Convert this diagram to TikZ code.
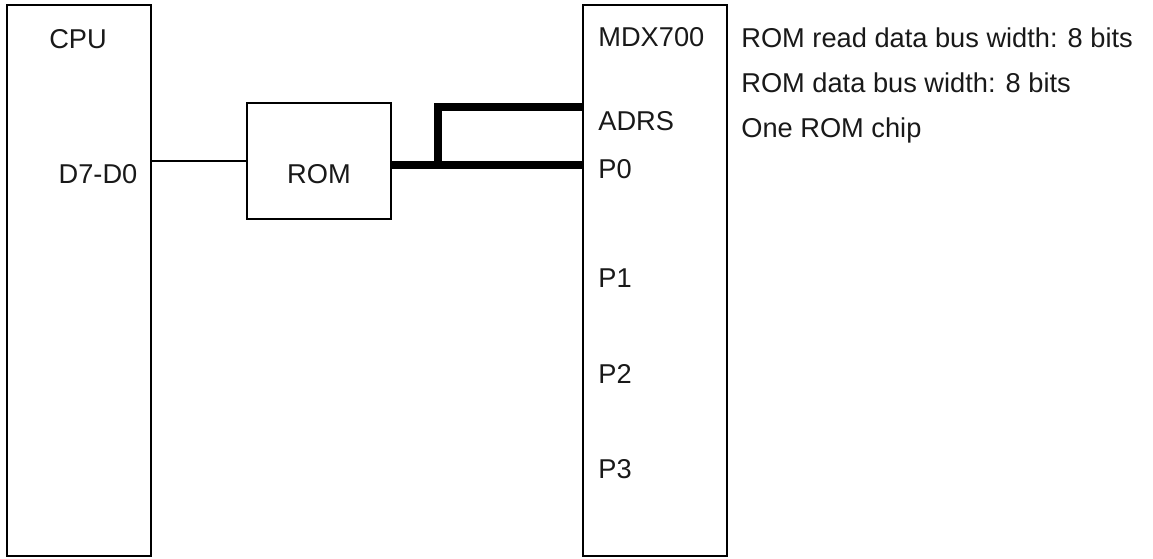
\documentclass[tikz,border=0pt]{standalone}
\usepackage{fontspec}
\setmainfont{Liberation Sans}
\usetikzlibrary{positioning, calc}
\definecolor{inkBlack}{RGB}{0,0,0}
\definecolor{textGray}{RGB}{25,25,25}
\tikzset{
    chipbox/.style={
        rectangle,
        draw=inkBlack,
        line width=1.1pt,
        minimum width=2.88cm,
        inner sep=0pt
    },
    pinlabel/.style={
        anchor=base west,
        inner sep=0pt,
        text=textGray,
        font=\fontsize{15.5}{18}\selectfont
    },
    titlelabel/.style={
        anchor=base,
        inner sep=0pt,
        text=textGray,
        font=\fontsize{15.5}{18}\selectfont
    },
    wire/.style={draw=inkBlack, line width=1.1pt},
    bus/.style={draw=inkBlack, line width=5.1pt, line join=miter}
}
\begin{document}
\begin{tikzpicture}[x=0.02cm,y=-0.02cm]
    \useasboundingbox (0,0) rectangle (1153,558);

    % chips
    \node[chipbox, minimum height=11.02cm] (cpu) at (79,280.5) {};
    \node[chipbox, minimum height=2.32cm] (rom) at (319,161) {};
    \node[chipbox, minimum height=11.02cm] (mdx) at (655,280.5) {};

    \node[titlelabel] (cputitle) at (78,48) {CPU};
    \node[titlelabel] (datapins) at (98,183) {D7-D0};
    \node[titlelabel] (romlabel) at (319,183) {ROM};

    \node[pinlabel] (mdxtitle) at (598,46.5) {MDX700};
    \node[pinlabel] (adrs) at (598,130) {ADRS};
    \foreach \y/\name in {178/P0,287/P1,383/P2,478/P3} {
        \node[pinlabel] (pin\name) at (598,\y) {\name};
    }

    % notes on the right
    \node[pinlabel] (note1) at (741,47) {ROM read data bus width: 8 bits};
    \node[pinlabel] (note2) at (741,92) {ROM data bus width: 8 bits};
    \node[pinlabel] (note3) at (741,137) {One ROM chip};

    % connections
    \coordinate (busy) at (0,165);
    \coordinate (adrsy) at (0,107);
    \coordinate (tap) at (438,165);
    \draw[wire] (rom.west -| cpu.east) -- (rom.west);
    \draw[bus] (rom.east |- busy) -- (mdx.west |- busy);
    \draw[bus] (tap) |- (mdx.west |- adrsy);
\end{tikzpicture}
\end{document}
